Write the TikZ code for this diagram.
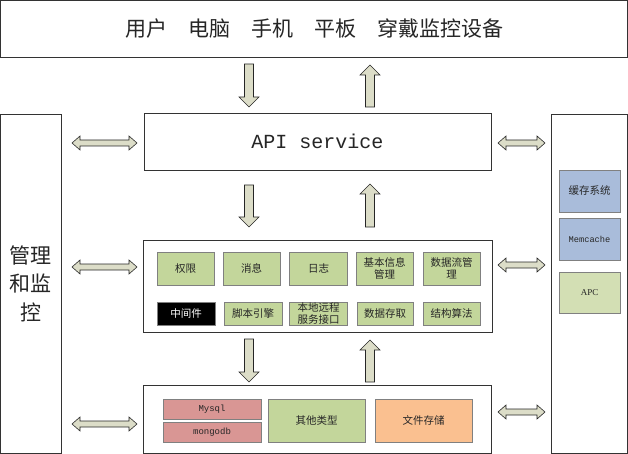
\documentclass[tikz,border=0pt]{standalone}
\usepackage{fontspec}
\setmainfont{Liberation Serif}
\setmonofont{Liberation Mono}
\newfontfamily\cjk{Noto Sans CJK SC}
\usetikzlibrary{calc}
\definecolor{arrowfill}{HTML}{DCDDC8}
\definecolor{greenfill}{HTML}{C3D69B}
\definecolor{lightgreen}{HTML}{D3DFB4}
\definecolor{pinkfill}{HTML}{D99694}
\definecolor{orangefill}{HTML}{FAC090}
\definecolor{bluefill}{HTML}{A9BCDA}
\definecolor{txt}{HTML}{262626}
\newcommand\myDown[2]{\draw[blockarrow] ($(#1)+(-4.5,0)$) -- ($(#2)+(-4.5,10)$) -- ($(#2)+(-10,10)$) -- (#2) -- ($(#2)+(10,10)$) -- ($(#2)+(4.5,10)$) -- ($(#1)+(4.5,0)$) -- cycle;}
\newcommand\myUp[2]{\draw[blockarrow] ($(#1)+(-4.5,0)$) -- ($(#2)+(-4.5,-10)$) -- ($(#2)+(-10,-10)$) -- (#2) -- ($(#2)+(10,-10)$) -- ($(#2)+(4.5,-10)$) -- ($(#1)+(4.5,0)$) -- cycle;}
\newcommand\myDbl[2]{\draw[blockarrow] (#1) -- ($(#1)+(8,7)$) -- ($(#1)+(8,3)$) -- ($(#2)+(-8,3)$) -- ($(#2)+(-8,7)$) -- (#2) -- ($(#2)+(-8,-7)$) -- ($(#2)+(-8,-3)$) -- ($(#1)+(8,-3)$) -- ($(#1)+(8,-7)$) -- cycle;}
\tikzset{
  box/.style={draw=black!80, line width=0.8pt, fill=white, inner sep=0pt, outer sep=0pt, anchor=north west, text=txt},
  inbox/.style={draw=black!50, line width=0.7pt, inner sep=0pt, outer sep=0pt, anchor=north west, text=txt, align=center, font=\cjk\fontsize{10.5}{11.5}\selectfont},
  gbox/.style={inbox, fill=greenfill},
  blockarrow/.style={draw=black!85, fill=arrowfill, line width=0.6pt, line join=miter},
}
\begin{document}
\begin{tikzpicture}[x=1pt,y=1pt]
\useasboundingbox (0,0) rectangle (628,-454);
% main boxes
\node[box, minimum width=627pt, minimum height=57pt, font=\cjk\fontsize{21}{24}\selectfont] (top) at (0.5,-0.5) {用户\quad 电脑\quad 手机\quad 平板\quad 穿戴监控设备};
\node[box, minimum width=347pt, minimum height=57pt, font=\ttfamily\fontsize{20}{24}\selectfont] (api) at (144,-113) {API service};
\node[box, minimum width=349pt, minimum height=92pt] (mid) at (143,-240) {};
\node[box, minimum width=348pt, minimum height=68pt] (bot) at (143,-385) {};
\node[box, minimum width=60.5pt, minimum height=339pt, align=center, font=\cjk\fontsize{21}{28.5}\selectfont] (left) at (0.5,-114) {管理\\和监\\控};
\node[box, minimum width=76.5pt, minimum height=339pt] (right) at (551,-114) {};
% middle layer
\node[gbox, minimum width=57pt, minimum height=33pt] (quan) at (157,-252) {权限};
\node[gbox, minimum width=57pt, minimum height=33pt] (xiao) at (223,-252) {消息};
\node[gbox, minimum width=58pt, minimum height=33pt] (rizhi) at (289.5,-252) {日志};
\node[gbox, minimum width=57pt, minimum height=33pt] (jiben) at (356,-252) {基本信息\\管理};
\node[gbox, minimum width=57pt, minimum height=33pt] (shuju) at (423,-252) {数据流管\\理};
\node[inbox, fill=black, text=white, minimum width=58pt, minimum height=23pt] (zhong) at (157,-302) {中间件};
\node[gbox, minimum width=58pt, minimum height=23pt] (jiao) at (224,-302) {脚本引擎};
\node[gbox, minimum width=58pt, minimum height=23pt] (bendi) at (289.5,-302) {本地远程\\服务接口};
\node[gbox, minimum width=56pt, minimum height=23pt] (cunqu) at (357,-302) {数据存取};
\node[gbox, minimum width=57pt, minimum height=23pt] (suanfa) at (423,-302) {结构算法};
% bottom layer
\node[inbox, fill=pinkfill, minimum width=98pt, minimum height=20pt, font=\ttfamily\fontsize{9}{10}\selectfont] (mysql) at (163,-399) {Mysql};
\node[inbox, fill=pinkfill, minimum width=98pt, minimum height=20pt, font=\ttfamily\fontsize{9}{10}\selectfont] (mongo) at (163,-422) {mongodb};
\node[gbox, minimum width=97pt, minimum height=43pt] (qita) at (268,-399) {其他类型};
\node[inbox, fill=orangefill, minimum width=97pt, minimum height=43pt] (wenjian) at (375,-399) {文件存储};
% right column
\node[inbox, fill=bluefill, minimum width=61pt, minimum height=42pt] (huancun) at (559,-170) {缓存系统};
\node[inbox, fill=bluefill, minimum width=61pt, minimum height=42pt, font=\ttfamily\fontsize{8.7}{10}\selectfont] (memc) at (559,-218) {Memcache};
\node[inbox, fill=lightgreen, minimum width=61pt, minimum height=41pt, font=\fontsize{9}{10}\selectfont] (apc) at (559,-272) {APC};
% arrow end points
\coordinate (d1a) at (249,-64);  \coordinate (d1b) at (249,-107);
\coordinate (u1a) at (370,-107); \coordinate (u1b) at (370,-65);
\coordinate (d2a) at (249,-185); \coordinate (d2b) at (249,-227);
\coordinate (u2a) at (370,-227); \coordinate (u2b) at (370,-184);
\coordinate (d3a) at (249,-339); \coordinate (d3b) at (249,-382);
\coordinate (u3a) at (370,-382); \coordinate (u3b) at (370,-340);
\coordinate (l1a) at (72,-143);  \coordinate (l1b) at (137,-143);
\coordinate (l2a) at (72,-267);  \coordinate (l2b) at (137,-267);
\coordinate (l3a) at (72,-424);  \coordinate (l3b) at (137,-424);
\coordinate (r1a) at (498,-143); \coordinate (r1b) at (545,-143);
\coordinate (r2a) at (498,-265); \coordinate (r2b) at (545,-265);
\coordinate (r3a) at (498,-412); \coordinate (r3b) at (545,-412);
\myDown{d1a}{d1b}
\myUp{u1a}{u1b}
\myDown{d2a}{d2b}
\myUp{u2a}{u2b}
\myDown{d3a}{d3b}
\myUp{u3a}{u3b}
\myDbl{l1a}{l1b}
\myDbl{l2a}{l2b}
\myDbl{l3a}{l3b}
\myDbl{r1a}{r1b}
\myDbl{r2a}{r2b}
\myDbl{r3a}{r3b}
\end{tikzpicture}
\end{document}
